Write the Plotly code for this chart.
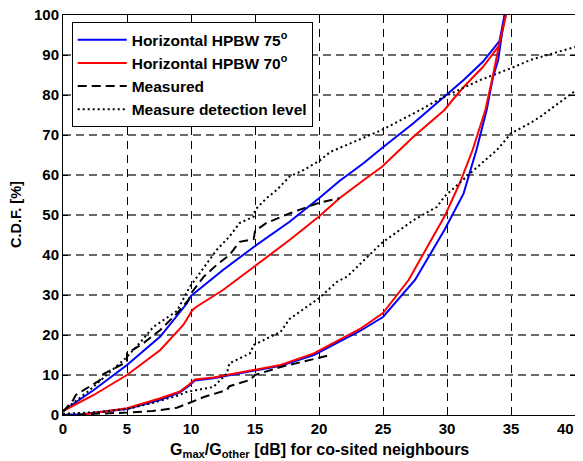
import plotly.graph_objects as go

# ---- data ----
b75_up_x = [0, 1, 2.4, 5, 7.6, 9.7, 10.0, 10.4, 12.5, 14.9, 17.7, 20, 21.6, 23.5, 24.9, 27.4, 29.8, 31.3, 32.8, 34.1, 34.5]
b75_up_y = [1, 3.2, 6.25, 12.5, 19.6, 28, 29.8, 30.8, 36.25, 42, 48.3, 54.2, 58.5, 63, 66.7, 73, 79.6, 83.75, 88.3, 93.5, 100]

r70_up_x = [0, 2.4, 5, 7.6, 9.4, 9.8, 10.1, 10.4, 12.5, 14.9, 17.7, 20, 21.6, 23.5, 24.9, 27.4, 29.8, 30.5, 31.3, 32.8, 34.1, 34.6]
r70_up_y = [1, 5, 10, 16.25, 22.5, 24.6, 26.2, 27, 31.25, 37, 43.75, 49.6, 54.2, 58.75, 62, 69.6, 76.25, 79, 82, 87, 92.5, 100]

meas_up_x = [0, 0.8, 1.0, 2.9, 3.0, 5.0, 5.0, 6.3, 7.6, 8.9, 9.8, 10.0, 11.0, 12.0, 13.0, 13.8, 14.9, 15.0, 15.9, 17.7, 19.95, 21.6]
meas_up_y = [0.8, 3.75, 5, 8.75, 10, 13.3, 15.4, 18, 21.25, 25.4, 28.75, 30.4, 34.6, 37.5, 40, 43.3, 44, 46, 48, 50.4, 53, 54.2]

det_up_x = [0, 2, 5, 6, 7.05, 8.9, 9.9, 11, 12, 13, 13.8, 14.9, 15.0, 15.9, 16.7, 17.7, 18.8, 20, 20.9, 24.9, 27.4, 29.8, 32.6, 35, 36.5, 40]
det_up_y = [1, 6, 14.5, 18, 22, 26, 32, 36.7, 41.25, 44.6, 48, 49.6, 51.25, 54.2, 56.25, 59.6, 61.25, 63.5, 65.8, 71.25, 75.4, 79.6, 83.75, 86.7, 88.75, 92]

b75_lo_x = [0, 1.5, 3, 5, 7.6, 9.1, 9.8, 10.3, 11.75, 14.9, 17, 19.6, 21.6, 23.2, 25, 27.5, 29.8, 31.3, 32.3, 33.1, 33.6, 34, 34.5]
b75_lo_y = [0, 0.2, 0.8, 1.5, 3.8, 5.6, 7.2, 8.6, 9.2, 11, 12.3, 15, 18.4, 21, 24.5, 33.75, 46.25, 55.4, 66.25, 76.25, 84.6, 88.75, 100]

r70_lo_x = [1.3, 3, 5, 7.6, 9.1, 9.8, 10.3, 11.75, 14.9, 17, 19.6, 21.6, 23.2, 25, 27, 29.8, 31, 32, 33, 33.6, 34.1, 34.6]
r70_lo_y = [0, 0.8, 1.7, 4.2, 5.8, 7.5, 8.9, 9.4, 11.25, 12.5, 15.4, 18.75, 21.5, 25.5, 33.75, 49.6, 58, 66.25, 76.25, 85, 93, 100]

meas_lo_x = [0, 3, 5, 7, 8.9, 10, 11, 12.8, 13, 14.6, 15, 17, 19, 20.9]
meas_lo_y = [0, 0.3, 0.6, 1.0, 1.8, 3.2, 4.5, 6.25, 7.2, 8.75, 10, 12, 13.5, 15]

det_lo_x = [0, 3, 5, 7, 9.1, 9.7, 11.75, 12.8, 13, 14.6, 14.9, 17, 17.7, 19, 20, 21.4, 22.2, 24.9, 27.4, 29.2, 29.8, 31.8, 33.9, 35, 36.5, 37.3, 39.8, 40]
det_lo_y = [0.3, 0.8, 1.5, 3, 5, 5.8, 7, 10.4, 12.9, 15.4, 17.5, 20.8, 24, 27, 29.2, 33.3, 34.6, 43, 48.75, 52, 54.6, 60.4, 66.25, 70.4, 73, 74.6, 80.5, 81]

x_ticks = [0, 5, 10, 15, 20, 25, 30, 35, 40]
y_ticks = [0, 10, 20, 30, 40, 50, 60, 70, 80, 90, 100]

names = ["Horizontal HPBW 75<sup>o</sup>", "Horizontal HPBW 70<sup>o</sup>", "Measured", "Measure detection level"]
x_title = "G<sub>max</sub>/G<sub>other</sub> [dB] for co-sited neighbours"
y_title = "C.D.F. [%]"

styles = [
    dict(color="#0000ff", width=2, dash="solid"),
    dict(color="#ff0000", width=2, dash="solid"),
    dict(color="#000000", width=2, dash="9px,5px"),
    dict(color="#000000", width=2, dash="2px,3px"),
]

fig = go.Figure()
series = [
    (b75_up_x, b75_up_y, b75_lo_x, b75_lo_y),
    (r70_up_x, r70_up_y, r70_lo_x, r70_lo_y),
    (meas_up_x, meas_up_y, meas_lo_x, meas_lo_y),
    (det_up_x, det_up_y, det_lo_x, det_lo_y),
]
for i, (ux, uy, lx, ly) in enumerate(series):
    fig.add_trace(go.Scatter(x=ux, y=uy, mode="lines", name=names[i], legendgroup=str(i),
                             line=styles[i], showlegend=True))
for i, (ux, uy, lx, ly) in enumerate(series):
    fig.add_trace(go.Scatter(x=lx, y=ly, mode="lines", name=names[i], legendgroup=str(i),
                             line=styles[i], showlegend=False))

FAM = "Liberation Sans, Arial, sans-serif"
font = dict(family=FAM, size=15, color="black")

# last x tick label is drawn as a right-aligned annotation so it is not cut at the edge
x_ticktext = [str(v) for v in x_ticks[:-1]] + [""]

# page body has an 8px default margin, so the figure is 8px smaller on each axis
fig.update_layout(
    width=575, height=453,
    margin=dict(l=55, r=8, t=7, b=46, autoexpand=False),
    paper_bgcolor="white", plot_bgcolor="white",
    font=font,
    showlegend=True,
    legend=dict(x=0.017, y=0.982, xanchor="left", yanchor="top",
                bgcolor="white", bordercolor="black", borderwidth=1,
                font=dict(family=FAM, size=15.5, color="black", weight="bold"),
                tracegroupgap=0, itemwidth=49),
    xaxis=dict(range=[0, 40], tickvals=x_ticks, ticktext=x_ticktext,
               showgrid=True, gridcolor="black", gridwidth=1, griddash="8px,6px",
               showline=True, linecolor="black", linewidth=1, mirror="ticks",
               ticks="inside", ticklen=5, tickcolor="black", zeroline=False,
               automargin=False, ticklabeloverflow="allow",
               tickfont=dict(family=FAM, size=15, weight="bold")),
    yaxis=dict(range=[0, 100], tickvals=y_ticks, ticktext=[str(v) for v in y_ticks],
               showgrid=True, gridcolor="#6a6a6a", gridwidth=1.5, griddash="8px,5px",
               showline=True, linecolor="black", linewidth=1, mirror="ticks",
               ticks="inside", ticklen=5, tickcolor="black", zeroline=False,
               automargin=False, ticklabeloverflow="allow",
               tickfont=dict(family=FAM, size=15, weight="bold")),
    annotations=[
        dict(text=str(x_ticks[-1]), xref="x", yref="paper", x=x_ticks[-1], y=0,
             xanchor="right", yanchor="middle", yshift=-13, showarrow=False, borderpad=0,
             font=dict(family=FAM, size=15, weight="bold", color="black")),
        dict(text=x_title, xref="paper", yref="paper", x=0.5, y=0, xanchor="center",
             yanchor="middle", yshift=-35, showarrow=False, borderpad=0,
             font=dict(family=FAM, size=16, weight="bold", color="black")),
        dict(text=y_title, xref="paper", yref="paper", x=0, y=0.5, xanchor="center",
             yanchor="middle", xshift=-47, textangle=-90, showarrow=False,
             font=dict(family=FAM, size=14.5, weight="bold", color="black")),
    ],
)

fig.write_html("out.html")
